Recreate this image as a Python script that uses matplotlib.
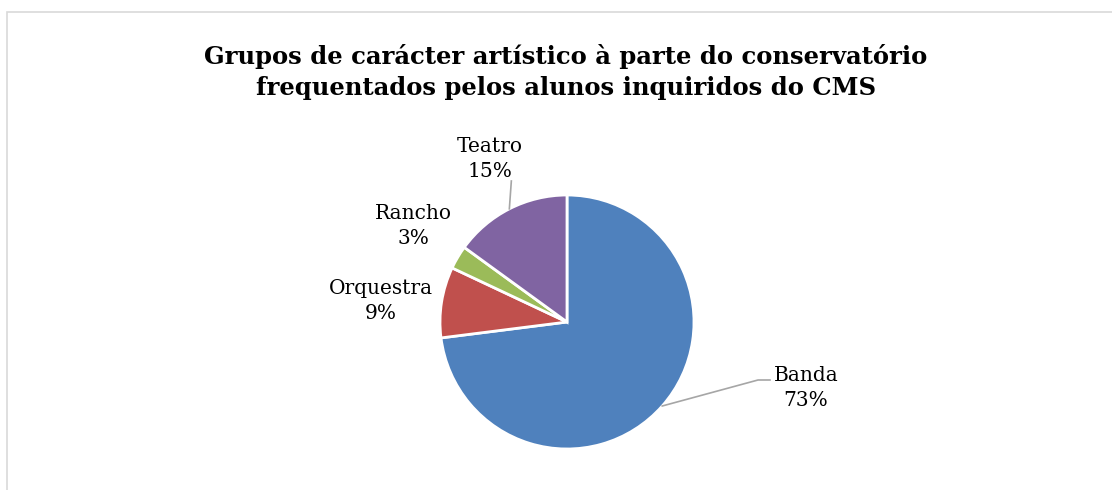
import numpy as np
import matplotlib.pyplot as plt
from matplotlib.patches import Rectangle

# dados do gráfico
grupos = ["Banda", "Orquestra", "Rancho", "Teatro"]
percentagens = [73, 9, 3, 15]
cores = ["#4F81BD", "#C0504D", "#9BBB59", "#8064A2"]

titulo = ("Grupos de carácter artístico à parte do conservatório\n"
          "frequentados pelos alunos inquiridos do CMS")

W, H = 1112, 490
fig = plt.figure(figsize=(W / 100, H / 100), dpi=100)
ax = fig.add_axes([0, 0, 1, 1])

# moldura da área do gráfico
fig.patches.append(Rectangle((7 / W, -0.1), 1.2, (H - 12) / H + 0.1,
                             transform=fig.transFigure, fill=False,
                             edgecolor="#D9D9D9", linewidth=1.2))

cx, cy, r = 567, H - 322, 127
wedges, _ = ax.pie(percentagens, colors=cores, startangle=90, counterclock=False,
                   center=(cx, cy), radius=r, frame=True,
                   wedgeprops=dict(edgecolor="white", linewidth=2))
ax.set_xlim(0, W)
ax.set_ylim(0, H)
ax.set_aspect("equal")
ax.axis("off")

fonte = "DejaVu Serif"
ax.text(W / 2 + 10, H - 72, titulo, ha="center", va="center", fontsize=17.5,
        fontweight="bold", family=fonte, linespacing=1.38)

# posição dos rótulos (centro do bloco de texto)
pos_rotulos = {"Banda": (806, H - 388), "Orquestra": (381, H - 301),
               "Rancho": (413, H - 226), "Teatro": (490, H - 159)}

for w, nome, p in zip(wedges, grupos, percentagens):
    tx, ty = pos_rotulos[nome]
    ax.text(tx, ty, f"{nome}\n{p}%", ha="center", va="center", fontsize=14.5,
            family=fonte, linespacing=1.4)
    ang = np.deg2rad((w.theta1 + w.theta2) / 2)
    ex, ey = cx + r * np.cos(ang), cy + r * np.sin(ang)
    if nome == "Teatro":
        ax.plot([ex, ex + 2], [ey, H - 181], color="#A6A6A6", lw=1.2)
    elif nome == "Banda":
        ax.plot([ex, 758, 770], [ey, H - 380, H - 380], color="#A6A6A6", lw=1.2)

fig.savefig("out.png", dpi=100)
